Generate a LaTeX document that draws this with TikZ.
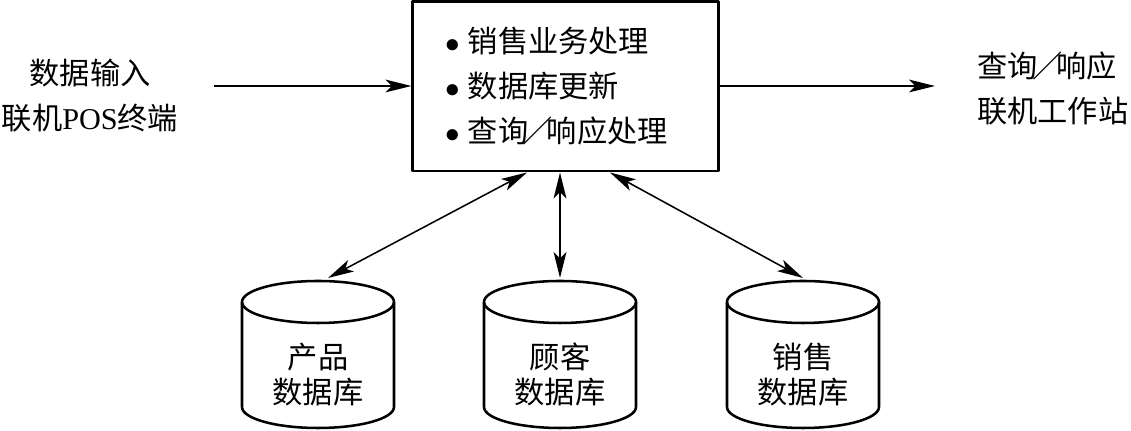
\documentclass[tikz,border=0pt]{standalone}
\usepackage{fontspec}
\setmainfont{Liberation Serif}
\newfontfamily\cjk{Noto Sans CJK SC}
\usetikzlibrary{arrows.meta,calc}
\newcommand{\slsh}{\makebox[0.62em][c]{／}}
\newcommand{\bul}{\makebox[0.75em][l]{$\bullet$}}
\tikzset{
  txt/.style={font={\cjk\fontsize{21.5pt}{32pt}\selectfont}, inner sep=0pt},
  proc/.style={draw, line width=2.1pt, minimum width=7.625cm, minimum height=4.225cm, align=left, txt},
  db/.style={line width=1.8pt},
  dbtext/.style={txt, align=center, font={\cjk\fontsize{21.5pt}{25pt}\selectfont}},
  flow/.style={line width=1.1pt}
}
\begin{document}
\begin{tikzpicture}[x=0.025cm, y=0.025cm, line join=round, >={Stealth[length=6.5mm, width=3.2mm, inset=1.6mm]}]
  \useasboundingbox (0,0) rectangle (1131,431);
  \node[proc] (proc) at (565.5,344.5) {\bul 销售业务处理\\\bul 数据库更新\\\bul 查询\slsh 响应处理\hspace*{0.45cm}};
  \node[txt, align=center] (inp) at (90,335) {数据输入\\联机{\rmfamily POS}终端};
  \node[txt, align=left, anchor=west] (outp) at (977,342) {查询\slsh 响应\\联机工作站};
  \foreach \n/\x/\t in {prod/318/产品, cust/560/顾客, sale/803/销售}{
    \draw[db] (\x-76,129) -- (\x-76,24) arc[start angle=180, end angle=360, x radius=76, y radius=21] -- (\x+76,129);
    \draw[db] (\x,129) ellipse[x radius=76, y radius=21];
    \node[dbtext] (\n) at (\x,56.5) {\t\\数据库};
    \coordinate (\n-top) at (\x,153);
  }
  \coordinate (inarr) at (214,345);
  \coordinate (outarr) at (935,345);
  \draw[flow, ->] (inarr) -- (inarr -| proc.west);
  \draw[flow, ->] (outarr -| proc.east) -- (outarr);
  \draw[flow, <->] ($(proc.south)+(-38.5,0)$) -- ($(prod-top)+(10,0)$);
  \draw[flow, <->] (proc.south -| cust-top) -- (cust-top);
  \draw[flow, <->] ($(proc.south)+(44.5,0)$) -- (sale-top);
\end{tikzpicture}
\end{document}
